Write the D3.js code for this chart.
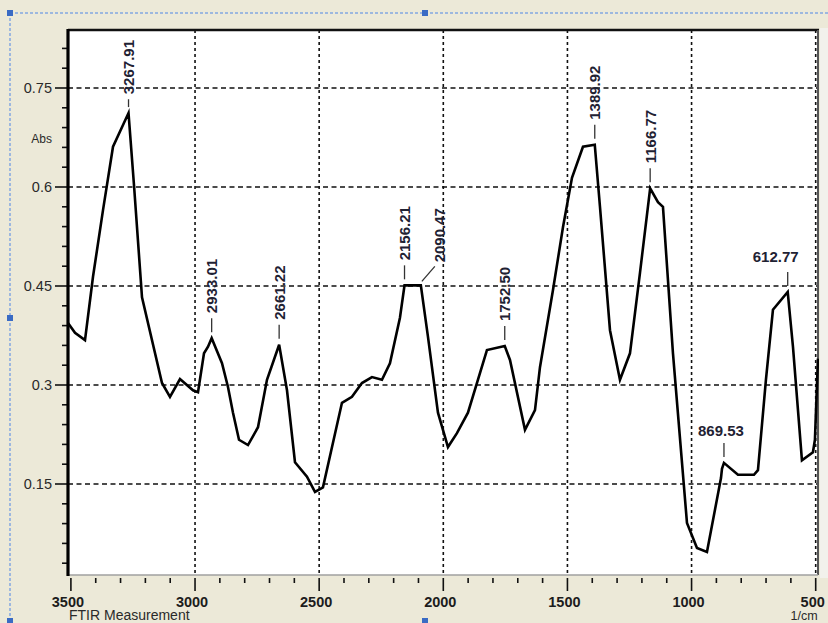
<!DOCTYPE html>
<html>
<head>
<meta charset="utf-8">
<script src="https://cdn.jsdelivr.net/npm/d3@7/dist/d3.min.js"></script>
<style>
  html, body { margin: 0; padding: 0; background: #ECE9D8; }
  svg { display: block; font-family: Arial, "Liberation Sans", sans-serif; }
</style>
</head>
<body>
<svg id="chart" width="828" height="623"></svg>
<script>
// FTIR absorbance spectrum (wavenumber in 1/cm, absorbance in Abs)
const wavenumbers = [
  3511.7, 3483.5, 3443.2, 3411.0, 3370.7, 3330.4, 3267.91, 3245.9, 3213.6, 3133.1,
  3100.9, 3060.6, 3008.2, 2988.0, 2963.9, 2947.7, 2933.01, 2891.4, 2867.3, 2847.1,
  2822.9, 2786.7, 2746.4, 2710.2, 2661.22, 2629.6, 2597.4, 2549.1, 2516.9, 2484.7,
  2408.2, 2367.9, 2327.7, 2287.4, 2247.1, 2214.9, 2174.6, 2156.21, 2090.47, 2061.7,
  2021.5, 1981.2, 1945.0, 1900.7, 1824.2, 1752.50, 1731.4, 1671.0, 1630.7, 1610.6,
  1558.2, 1518.0, 1481.7, 1437.4, 1389.92, 1368.9, 1328.6, 1288.4, 1248.1, 1207.8,
  1166.77, 1135.3, 1115.2, 1074.9, 1018.5, 978.2, 938.0, 881.5, 877.5, 869.53,
  813.1, 748.7, 732.6, 700.4, 672.2, 612.77, 591.6, 555.4, 511.1, 503.1, 491.0
];
const absorbance = [
  0.394, 0.379, 0.368, 0.464, 0.565, 0.661, 0.712, 0.603, 0.433, 0.303,
  0.282, 0.309, 0.292, 0.289, 0.348, 0.358, 0.371, 0.333, 0.297, 0.258,
  0.217, 0.209, 0.236, 0.308, 0.361, 0.292, 0.183, 0.161, 0.138, 0.145,
  0.273, 0.282, 0.303, 0.312, 0.308, 0.333, 0.402, 0.451, 0.451, 0.373,
  0.258, 0.206, 0.227, 0.258, 0.353, 0.359, 0.338, 0.232, 0.262, 0.327,
  0.444, 0.539, 0.614, 0.661, 0.664, 0.570, 0.383, 0.308, 0.348, 0.470,
  0.598, 0.577, 0.570, 0.348, 0.091, 0.053, 0.047, 0.159, 0.173, 0.182,
  0.164, 0.164, 0.171, 0.308, 0.414, 0.441, 0.358, 0.186, 0.198, 0.217, 0.340
];
// Peak picks (wavenumbers present in the series above)
const peakLabels = ["3267.91", "2933.01", "2661.22", "2156.21", "2090.47",
                    "1752.50", "1389.92", "1166.77", "869.53", "612.77"];
const xTickValues = [3500, 3000, 2500, 2000, 1500, 1000, 500];
const yTickValues = [0.15, 0.3, 0.45, 0.6, 0.75];
const yTickLabels = ["0.15", "0.3", "0.45", "0.6", "0.75"];
const xUnit = "1/cm";
const yUnit = "Abs";
const footer = "FTIR Measurement";

// Placement tweaks for individual peak labels
const labelLayout = {
  "2090.47": { dx: 19, leader: "diagonal" },
  "869.53": { horizontal: true, dx: -3 },
  "612.77": { horizontal: true, dx: -12, pad: 10 }
};

const svg = d3.select("#chart");
const plot = { left: 68, right: 818, top: 30, bottom: 575 };

const x = d3.scaleLinear().domain([3500, 500]).range([70.9, 815.7]);
const y = d3.scaleLinear().domain([0.15, 0.75]).range([484, 88]);

// selection frame around the graph object
const sel = svg.append("g");
sel.append("line").attr("x1", 10).attr("x2", 828).attr("y1", 13).attr("y2", 13)
  .attr("stroke", "#4F86E6").attr("stroke-width", 1).attr("stroke-dasharray", "3,2");
sel.append("line").attr("x1", 10).attr("x2", 10).attr("y1", 13).attr("y2", 623)
  .attr("stroke", "#4F86E6").attr("stroke-width", 1).attr("stroke-dasharray", "3,2");
[[10, 13], [425, 13], [10, 318], [10, 621], [425, 621]].forEach(([cx, cy]) => {
  sel.append("rect").attr("x", cx - 3).attr("y", cy - 3).attr("width", 6).attr("height", 6)
    .attr("fill", "#3A6BC4");
});

// right margin strip
svg.append("rect").attr("x", 820).attr("y", 28).attr("width", 8).attr("height", 550)
  .attr("fill", "#F2F1EC");

// plot area
svg.append("rect").attr("x", plot.left).attr("y", plot.top)
  .attr("width", plot.right - plot.left).attr("height", plot.bottom - plot.top)
  .attr("fill", "#ffffff");

// grid
const grid = svg.append("g");
yTickValues.forEach(v => {
  grid.append("line").attr("x1", plot.left).attr("x2", plot.right)
    .attr("y1", y(v)).attr("y2", y(v))
    .attr("stroke", "#111").attr("stroke-width", 1.6).attr("stroke-dasharray", "5,3.5");
});
xTickValues.slice(1).forEach(v => {
  grid.append("line").attr("x1", x(v)).attr("x2", x(v))
    .attr("y1", plot.top).attr("y2", plot.bottom)
    .attr("stroke", "#111").attr("stroke-width", 1.6).attr("stroke-dasharray", "3,3");
});

// frame
svg.append("line").attr("x1", plot.left).attr("x2", plot.right + 1)
  .attr("y1", plot.top).attr("y2", plot.top).attr("stroke", "#111").attr("stroke-width", 2.5);
svg.append("line").attr("x1", plot.right).attr("x2", plot.right)
  .attr("y1", plot.top).attr("y2", plot.bottom).attr("stroke", "#555").attr("stroke-width", 2);
svg.append("line").attr("x1", plot.left).attr("x2", plot.right)
  .attr("y1", plot.bottom).attr("y2", plot.bottom).attr("stroke", "#A0A0A0").attr("stroke-width", 1.5);

// spectrum
svg.append("clipPath").attr("id", "clip").append("rect")
  .attr("x", plot.left).attr("y", plot.top)
  .attr("width", plot.right - plot.left + 1).attr("height", plot.bottom - plot.top);
const series = wavenumbers.map((w, i) => [w, absorbance[i]]);
const line = d3.line().x(d => x(d[0])).y(d => y(d[1]));
svg.append("path").datum(series).attr("clip-path", "url(#clip)")
  .attr("d", line).attr("fill", "none").attr("stroke", "#000")
  .attr("stroke-width", 2.6).attr("stroke-linejoin", "miter");

// y axis
const yAxisG = svg.append("g");
const yMinor = d3.range(0.03, 0.84, 0.03).filter(v => y(v) >= plot.top && y(v) <= plot.bottom);
yMinor.forEach(v => {
  const major = yTickValues.some(t => Math.abs(t - v) < 1e-6);
  yAxisG.append("line").attr("x1", major ? 55 : 62).attr("x2", plot.left)
    .attr("y1", y(v)).attr("y2", y(v)).attr("stroke", "#111").attr("stroke-width", 1.6);
});
yAxisG.append("line").attr("x1", plot.left).attr("x2", plot.left)
  .attr("y1", plot.top - 1).attr("y2", plot.bottom + 1)
  .attr("stroke", "#000").attr("stroke-width", 3.2);
yTickValues.forEach((v, i) => {
  yAxisG.append("text").attr("x", 52).attr("y", y(v)).attr("dy", "0.35em")
    .attr("text-anchor", "end").attr("font-size", 14.5).attr("fill", "#2a2a2a")
    .text(yTickLabels[i]);
});
yAxisG.append("text").attr("x", 52).attr("y", 143).attr("text-anchor", "end")
  .attr("font-size", 12).attr("fill", "#2a2a2a").text(yUnit);

// x axis
const xAxisG = svg.append("g");
d3.range(500, 3501, 100).forEach(v => {
  const major = v % 500 === 0;
  xAxisG.append("line").attr("x1", x(v)).attr("x2", x(v))
    .attr("y1", 578).attr("y2", major ? 591 : 583)
    .attr("stroke", "#111").attr("stroke-width", 1.6);
});
xTickValues.forEach(v => {
  xAxisG.append("text").attr("x", x(v) - 3).attr("y", 607).attr("text-anchor", "middle")
    .attr("font-size", 14.5).attr("font-weight", "bold").attr("fill", "#1c1c1c").text(v);
});
xAxisG.append("text").attr("x", 804).attr("y", 620).attr("text-anchor", "middle")
  .attr("font-size", 12.5).attr("fill", "#2a2a2a").text(xUnit);
svg.append("text").attr("x", 69).attr("y", 620).attr("font-size", 14)
  .attr("fill", "#2a2a2a").text(footer);

// peak labels
const labelsG = svg.append("g");
const gap = 6, tickLen = 14, pad = 5, minTop = 40;
peakLabels.forEach(lbl => {
  const w = +lbl;
  const idx = wavenumbers.findIndex(v => Math.abs(v - w) < 1e-6);
  const px = x(wavenumbers[idx]);
  const py = y(absorbance[idx]);
  const opt = labelLayout[lbl] || {};
  const tickBottom = py - gap;
  if (opt.horizontal) {
    const tickTop = tickBottom - tickLen;
    labelsG.append("line").attr("x1", px).attr("x2", px).attr("y1", tickBottom).attr("y2", tickTop)
      .attr("stroke", "#333").attr("stroke-width", 1.3);
    labelsG.append("text").attr("x", px + (opt.dx || 0)).attr("y", tickTop - (opt.pad || 7))
      .attr("text-anchor", "middle").attr("font-size", 15).attr("font-weight", "bold")
      .attr("fill", "#1f2233").text(lbl);
    return;
  }
  const t = labelsG.append("text").attr("font-size", 15).attr("font-weight", "bold")
    .attr("fill", "#1f2233").attr("text-anchor", "start").attr("dy", "0.36em").text(lbl);
  const len = t.node().getComputedTextLength();
  let tickTop = tickBottom - tickLen;
  let textBottom = tickTop - pad;
  if (textBottom - len < minTop) {
    textBottom = minTop + len;
    tickTop = textBottom + pad;
  }
  let tx = px;
  if (opt.leader === "diagonal") {
    tx = px + opt.dx;
    labelsG.append("line").attr("x1", px + 1).attr("y1", py - 4)
      .attr("x2", tx - 5).attr("y2", py - 19).attr("stroke", "#333").attr("stroke-width", 1.3);
    textBottom = py - 23;
  } else {
    labelsG.append("line").attr("x1", px).attr("x2", px).attr("y1", tickBottom).attr("y2", tickTop)
      .attr("stroke", "#333").attr("stroke-width", 1.3);
  }
  t.attr("transform", `translate(${tx},${textBottom}) rotate(-90)`);
});
</script>
</body>
</html>
